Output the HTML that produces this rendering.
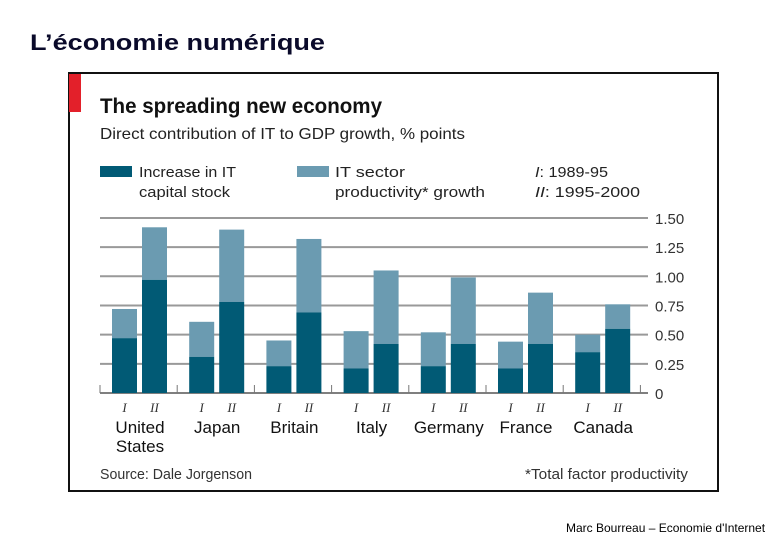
<!DOCTYPE html>
<html><head><meta charset="utf-8"><style>
body{margin:0;background:#fff;width:783px;height:540px;overflow:hidden;font-family:"Liberation Sans",sans-serif}
</style></head><body>
<svg width="783" height="540" xmlns="http://www.w3.org/2000/svg">
<text x="30" y="50" font-size="22" font-weight="bold" fill="#0a0a2a" font-family="Liberation Sans" textLength="295" lengthAdjust="spacingAndGlyphs">L’économie numérique</text>
<rect x="69" y="73" width="649" height="418" fill="#fff" stroke="#111" stroke-width="2"/>
<rect x="69" y="74" width="12" height="38" fill="#e3202a"/>
<text x="100" y="113" font-size="21" font-weight="bold" fill="#111" textLength="282" lengthAdjust="spacingAndGlyphs">The spreading new economy</text>
<text x="100" y="139" font-size="16" fill="#222" textLength="365" lengthAdjust="spacingAndGlyphs">Direct contribution of IT to GDP growth, % points</text>
<rect x="100" y="166" width="32" height="11" fill="#015a75"/>
<text x="139" y="177" font-size="15" fill="#222" textLength="97" lengthAdjust="spacingAndGlyphs">Increase in IT</text>
<text x="139" y="197" font-size="15" fill="#222" textLength="91" lengthAdjust="spacingAndGlyphs">capital stock</text>
<rect x="297" y="166" width="32" height="11" fill="#6b9bb1"/>
<text x="335" y="177" font-size="15" fill="#222" textLength="70" lengthAdjust="spacingAndGlyphs">IT sector</text>
<text x="335" y="197" font-size="15" fill="#222" textLength="150" lengthAdjust="spacingAndGlyphs">productivity* growth</text>
<text x="535" y="177" font-size="15" fill="#222" textLength="73" lengthAdjust="spacingAndGlyphs"><tspan font-style="italic">I</tspan>: 1989-95</text>
<text x="535" y="197" font-size="15" fill="#222" textLength="105" lengthAdjust="spacingAndGlyphs"><tspan font-style="italic">II</tspan>: 1995-2000</text>
<g id="chart"></g>
<text x="100" y="479" font-size="15" fill="#333" textLength="152" lengthAdjust="spacingAndGlyphs">Source: Dale Jorgenson</text>
<text x="525" y="479" font-size="15" fill="#333" textLength="163" lengthAdjust="spacingAndGlyphs">*Total factor productivity</text>
<text x="566" y="532" font-size="12" fill="#000">Marc Bourreau – Economie d'Internet</text>
</svg>
<script>
const countries=["United States","Japan","Britain","Italy","Germany","France","Canada"];
const capitalI=[0.47,0.31,0.23,0.21,0.23,0.21,0.35];
const totalI=[0.72,0.61,0.45,0.53,0.52,0.44,0.50];
const capitalII=[0.97,0.78,0.69,0.42,0.42,0.42,0.55];
const totalII=[1.42,1.40,1.32,1.05,0.99,0.86,0.76];
const ticks=[0,0.25,0.5,0.75,1,1.25,1.5];
const tickLabels=["0","0.25","0.50","0.75","1.00","1.25","1.50"];
const NS="http://www.w3.org/2000/svg";
const g=document.getElementById('chart');
const y0=393,yScale=116.7;
const y=v=>y0-v*yScale;
const gx=i=>100+i*77.2;
function mk(t,a){const e=document.createElementNS(NS,t);for(const k in a)e.setAttribute(k,a[k]);g.appendChild(e);return e;}
ticks.forEach((t,i)=>{
 const l=mk('line',{x1:100,x2:648,y1:y(t),y2:y(t),stroke:i==0?'#555':'#999','stroke-width':i==0?1.5:2});
 
 
 const tx=mk('text',{x:655,y:y(t)+6,'font-size':15,fill:'#333'});tx.textContent=tickLabels[i];
 
 
});
for(let i=0;i<=7;i++){const l=mk('line',{x1:gx(i),x2:gx(i),y1:y0-8,y2:y0,stroke:'#777','stroke-width':1});
 
 }
countries.forEach((c,i)=>{
 const b=gx(i);
 [[capitalI[i],totalI[i],b+12,'I'],[capitalII[i],totalII[i],b+42,'II']].forEach(([cap,tot,x,p])=>{
  const r1=mk('rect',{x:x,y:y(tot),width:25,height:y(cap)-y(tot),fill:'#6b9bb1'});
  
  
  const r2=mk('rect',{x:x,y:y(cap),width:25,height:y0-y(cap),fill:'#015a75'});
  
  
  const t=mk('text',{x:x+12.5,y:412,'font-size':13,'font-style':'italic','text-anchor':'middle',fill:'#333','font-family':'Liberation Serif'});t.textContent=p;
  
  
 });
 const words=c==="United States"?["United","States"]:[c];
 words.forEach((w,j)=>{const t=mk('text',{x:b+40,y:433+j*19,'font-size':17,'text-anchor':'middle',fill:'#111'});t.textContent=w;
  
  });
});
</script>
</body></html>
